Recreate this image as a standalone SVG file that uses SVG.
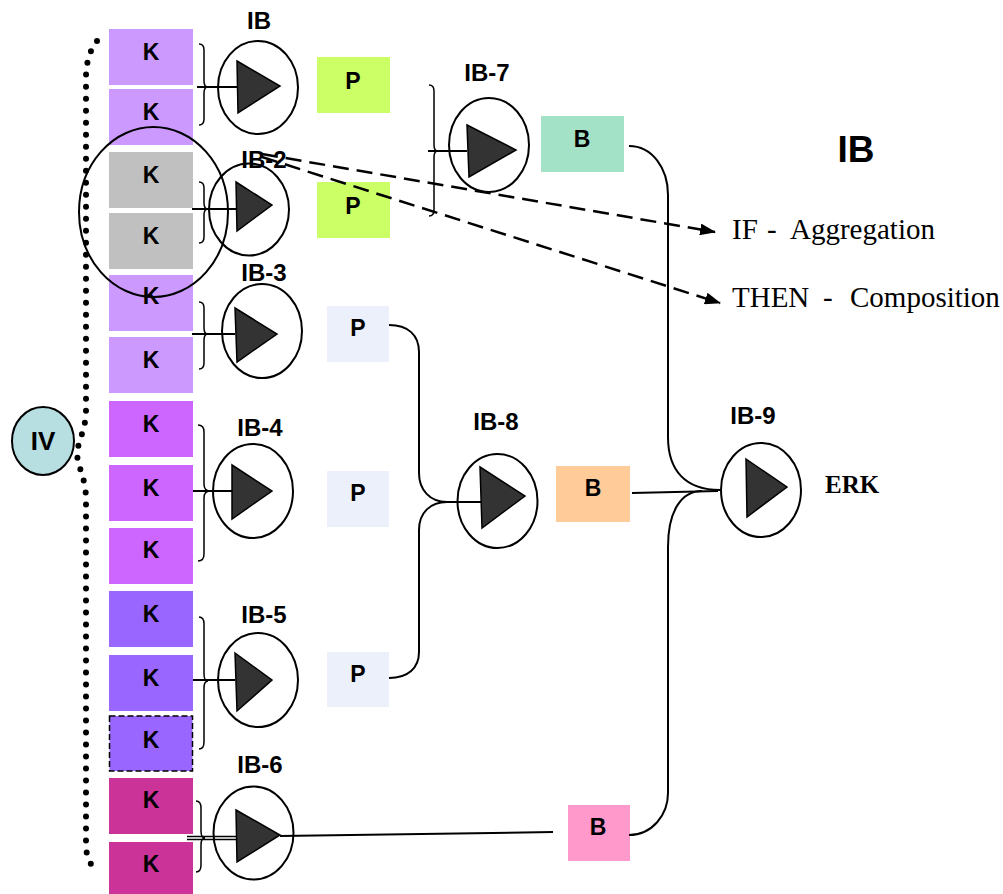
<svg xmlns="http://www.w3.org/2000/svg" width="1003" height="894" viewBox="0 0 1003 894">
<defs>
<style>
.lbl{font-family:"Liberation Sans",Arial,sans-serif;font-weight:bold;font-size:23px;text-anchor:middle;fill:#000}
.ib{font-family:"Liberation Sans",Arial,sans-serif;font-weight:bold;font-size:24px;text-anchor:middle;fill:#000}
.ser{font-family:"Liberation Serif","Times New Roman",serif;font-size:29px;fill:#000}
.circ{fill:none;stroke:#000;stroke-width:2}
.tri{fill:#333;stroke:#000;stroke-width:1.5;stroke-linejoin:miter}
.ln{fill:none;stroke:#000;stroke-width:2}
.br{fill:none;stroke:#000;stroke-width:1.5}
.dash{fill:none;stroke:#000;stroke-width:2.5;stroke-dasharray:16 8}
.dots{fill:none;stroke:#000;stroke-width:6;stroke-linecap:round;stroke-dasharray:0 12}
.k1{fill:#CC99FF}.k2{fill:#C0C0C0}.k3{fill:#CC66FF}.k4{fill:#9966FF}.k5{fill:#CC3399}
.pg{fill:#CCFF66}.pl{fill:#EBF0FA}.bt{fill:#A4E2C8}.bo{fill:#FFCC99}.bp{fill:#FF99CC}
</style>
<marker id="ah" markerUnits="userSpaceOnUse" markerWidth="16" markerHeight="12" refX="15" refY="6" orient="auto"><path d="M0,0 L16,6 L0,12 z" fill="#000"/></marker>
</defs>
<rect width="1003" height="894" fill="#fff"/>

<!-- K column -->
<g id="K1"><rect class="k1" x="109" y="29" width="84" height="56"/><text class="lbl" x="151" y="60">K</text></g>
<g id="K2"><rect class="k1" x="109" y="89" width="84" height="56"/><text class="lbl" x="151" y="120">K</text></g>
<g id="K3"><rect class="k2" x="109" y="152" width="84" height="56"/><text class="lbl" x="151" y="183">K</text></g>
<g id="K4"><rect class="k2" x="109" y="213" width="84" height="56"/><text class="lbl" x="151" y="244">K</text></g>
<g id="K5"><rect class="k1" x="109" y="275" width="84" height="56"/><text class="lbl" x="151" y="304">K</text></g>
<g id="K6"><rect class="k1" x="109" y="337" width="84" height="56"/><text class="lbl" x="151" y="368">K</text></g>
<g id="K7"><rect class="k3" x="109" y="401" width="84" height="56"/><text class="lbl" x="151" y="432">K</text></g>
<g id="K8"><rect class="k3" x="109" y="465" width="84" height="56"/><text class="lbl" x="151" y="496">K</text></g>
<g id="K9"><rect class="k3" x="109" y="528" width="84" height="56"/><text class="lbl" x="151" y="558">K</text></g>
<g id="K10"><rect class="k4" x="109" y="591" width="84" height="56"/><text class="lbl" x="151" y="622">K</text></g>
<g id="K11"><rect class="k4" x="109" y="655" width="84" height="56"/><text class="lbl" x="151" y="686">K</text></g>
<g id="K12"><rect class="k4" x="109.5" y="716" width="83" height="55" stroke="#000" stroke-width="1.5" stroke-dasharray="6 3"/><text class="lbl" x="151" y="748">K</text></g>
<g id="K13"><rect class="k5" x="109" y="778" width="84" height="56"/><text class="lbl" x="151" y="808">K</text></g>
<g id="K14"><rect class="k5" x="109" y="842" width="84" height="56"/><text class="lbl" x="151" y="872">K</text></g>

<!-- grouping ellipse around K3/K4 -->
<g id="group-ellipse"><ellipse class="circ" cx="153.5" cy="212" rx="74.5" ry="85"/></g>

<!-- IV -->
<g id="IV">
<path class="dots" d="M97,41 C90,50 86,62 86,78 L86,410 C86,430 78,440 77,454 C78,468 86,478 86,500 L86,845 C86,856 90,864 94,868"/>
<ellipse cx="43" cy="441" rx="31" ry="34" fill="#B7DFE1" stroke="#000" stroke-width="2"/>
<text class="ib" x="43" y="450" style="font-size:26px">IV</text>
</g>

<!-- P and B boxes -->
<g id="P1"><rect class="pg" x="317" y="57" width="73" height="56"/><text class="lbl" x="353" y="89">P</text></g>
<g id="P2"><rect class="pg" x="317" y="182" width="73" height="56"/><text class="lbl" x="353" y="214">P</text></g>
<g id="P3"><rect class="pl" x="327" y="306" width="62" height="56"/><text class="lbl" x="358" y="336">P</text></g>
<g id="P4"><rect class="pl" x="327" y="471" width="62" height="56"/><text class="lbl" x="358" y="501">P</text></g>
<g id="P5"><rect class="pl" x="327" y="652" width="62" height="55"/><text class="lbl" x="358" y="682">P</text></g>
<g id="B1"><rect class="bt" x="541" y="116" width="83" height="56"/><text class="lbl" x="582" y="147">B</text></g>
<g id="B2"><rect class="bo" x="556" y="466" width="74" height="56"/><text class="lbl" x="593" y="496">B</text></g>
<g id="B3"><rect class="bp" x="568" y="805" width="62" height="56"/><text class="lbl" x="598" y="835">B</text></g>

<!-- connectors -->
<g id="connectors">
<path class="br" d="M199,44 Q204,44 204,50 L204,81 Q204,87 208,87 Q204,87 204,93 L204,119 Q204,125 199,125"/>
<path class="ln" d="M197,87 L237,87"/>
<path class="br" d="M199,182 Q204,182 204,188 L204,203 Q204,209 208,209 Q204,209 204,215 L204,237 Q204,243 199,243"/>
<path class="ln" d="M192,209 L236,209"/>
<path class="br" d="M199,302 Q204,302 204,308 L204,328 Q204,334 208,334 Q204,334 204,340 L204,363 Q204,369 199,369"/>
<path class="ln" d="M192,334 L235,334"/>
<path class="br" d="M198,425 Q204,425 204,432 L204,484 Q204,491 210,491 Q204,491 204,498 L204,554 Q204,561 198,561"/>
<path class="ln" d="M193,491 L232,491"/>
<path class="br" d="M199,617 Q204,617 204,624 L204,674 Q204,681 208,681 Q204,681 204,688 L204,742 Q204,749 199,749"/>
<path class="ln" d="M193,680 L235,680"/>
<path class="br" d="M196,801 Q201,801 201,808 L201,831 Q201,838 205,838 Q201,838 201,845 L201,865 Q201,872 196,872"/>
<path class="ln" d="M187,836.5 L236,836.5 M187,839.5 L236,839.5" style="stroke-width:1.5"/>
<path class="ln" d="M280,836 L553,832"/>
<path class="br" d="M429,85 Q434,85 434,91 L434,145 Q434,151 438,151 Q434,151 434,157 L434,210 Q434,216 429,216"/>
<path class="ln" d="M428,151 L467,151"/>
<path class="ln" d="M389,325 C408,325 419,335 419,352 L419,473 C419,490 430,502 447,502 L481,502"/>
<path class="ln" d="M389,678 C408,678 419,668 419,652 L419,530 C419,513 430,502 447,502"/>
<path class="ln" d="M632,493 L718,491"/>
<path class="ln" d="M629,146 C652,146 668,168 668,195 L668,437 C668,470 685,490 720,490"/>
<path class="ln" d="M629,835 C652,835 668,815 668,793 L668,547 C668,510 682,491 702,491"/>
<path class="dash" d="M262,154 L715,232" marker-end="url(#ah)"/>
<path class="dash" d="M262,157 L720,303" marker-end="url(#ah)"/>
</g>

<!-- IB amplifiers -->
<g id="IB1"><ellipse class="circ" cx="258" cy="87.5" rx="40" ry="46.5"/><path class="tri" d="M237,61 L280,86 L238,113 z"/><text class="ib" x="259" y="29">IB</text></g>
<g id="IB2"><ellipse class="circ" cx="249" cy="209.5" rx="40" ry="46"/><path class="tri" d="M236,182 L272,205 L237,231 z"/><text class="ib" x="264" y="168">IB-2</text></g>
<g id="IB3"><ellipse class="circ" cx="262" cy="331" rx="40" ry="47"/><path class="tri" d="M235,308 L277,334 L237,362 z"/><text class="ib" x="264" y="281">IB-3</text></g>
<g id="IB4"><ellipse class="circ" cx="253" cy="491" rx="40" ry="47"/><path class="tri" d="M232,465 L272,491 L232,519 z"/><text class="ib" x="260" y="436">IB-4</text></g>
<g id="IB5"><ellipse class="circ" cx="258" cy="680" rx="40" ry="47"/><path class="tri" d="M235,653 L272,680 L237,711 z"/><text class="ib" x="264" y="623">IB-5</text></g>
<g id="IB6"><ellipse class="circ" cx="253.5" cy="833" rx="40" ry="46.5"/><path class="tri" d="M236,810 L280,835 L237,862 z"/><text class="ib" x="260" y="773">IB-6</text></g>
<g id="IB7"><ellipse class="circ" cx="489" cy="145" rx="40" ry="47"/><path class="tri" d="M467,125 L516,150 L469,177 z"/><text class="ib" x="487" y="81">IB-7</text></g>
<g id="IB8"><ellipse class="circ" cx="497.5" cy="501" rx="40" ry="47"/><path class="tri" d="M480,467 L525,496 L482,528 z"/><text class="ib" x="496" y="430">IB-8</text></g>
<g id="IB9"><ellipse class="circ" cx="761" cy="490" rx="40" ry="47"/><path class="tri" d="M746,459 L787,487 L747,517 z"/><text class="ib" x="753" y="424">IB-9</text></g>

<!-- legend / annotations -->
<g id="legend">
<text class="ib" x="856" y="162" style="font-size:37px">IB</text>
<text class="ser" y="239"><tspan x="732">IF</tspan><tspan x="767">-</tspan><tspan x="790">Aggregation</tspan></text>
<text class="ser" y="307"><tspan x="732">THEN</tspan><tspan x="823">-</tspan><tspan x="850">Composition</tspan></text>
<text class="ser" x="825" y="493" style="font-weight:bold;font-size:25px">ERK</text>
</g>
</svg>
